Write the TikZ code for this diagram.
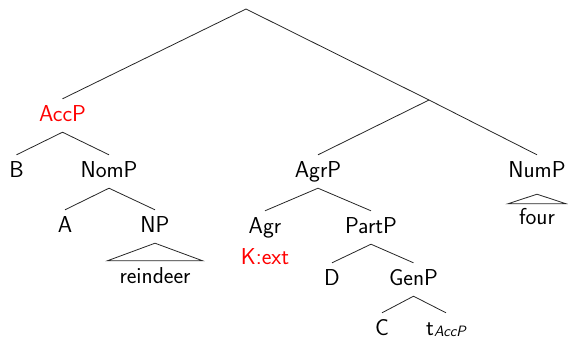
\documentclass[tikz,border=0pt]{standalone}
\usepackage{fontspec}
\usetikzlibrary{calc}
\definecolor{accred}{RGB}{255,0,0}
\begin{document}
\begin{tikzpicture}[x=1pt,y=-1pt,
  lab/.style={anchor=base, font=\sffamily\fontsize{23}{27}\selectfont,
    text height=16pt, text depth=5pt, inner ysep=6pt, inner xsep=0pt},
  hl/.style={text=accred},
  bottomrow/.style={text height=22pt, text depth=0pt, inner ysep=0pt},
  edge/.style={line width=0.8pt, black!85},
  leaf/.style={lab, inner xsep=12pt}]
\useasboundingbox (0,0) rectangle (568,338);
\coordinate (root) at (246,9);
\coordinate (j) at (429,100);
\node[lab,hl] (accp) at (62.5,121) {AccP};
\node[lab] (b) at (16.5,177) {B};
\node[lab] (nomp) at (109,177) {NomP};
\node[lab] (a) at (65,232) {A};
\node[lab] (np) at (155,232) {NP};
\node[leaf] (rd) at (155,283) {reindeer};
\node[lab] (agrp) at (318,177) {AgrP};
\node[lab] (agr) at (265,233) {Agr};
\node[lab,hl] (kext) at (265,264) {K:ext};
\node[lab] (partp) at (371,233) {PartP};
\node[lab] (d) at (332,285) {D};
\node[lab] (genp) at (413.5,285) {GenP};
\node[lab,bottomrow] (c) at (382,335) {C};
\node[lab,bottomrow] (t) at (446,335) {t\raisebox{-1pt}{\fontsize{15}{15}\selectfont\itshape AccP}};
\node[lab] (nump) at (537,177) {NumP};
\node[leaf, inner xsep=11pt, inner ysep=4pt] (four) at (537,224) {four};
\draw[edge] (accp.north) -- (root) -- (j);
\draw[edge] (b.north) -- (accp.south) -- (nomp.north);
\draw[edge] (a.north) -- (nomp.south) -- (np.north);
\draw[edge] (np.south) -- (rd.north west) -- (rd.north east) -- cycle;
\draw[edge] (agrp.north) -- (j) -- (nump.north);
\draw[edge] (agr.north) -- (agrp.south) -- (partp.north);
\draw[edge] (d.north) -- (partp.south) -- (genp.north);
\draw[edge] (c.north) -- (genp.south) -- (t.north);
\draw[edge] ($(nump.south)+(0,6)$) -- (four.north west) -- (four.north east) -- cycle;
\end{tikzpicture}
\end{document}
